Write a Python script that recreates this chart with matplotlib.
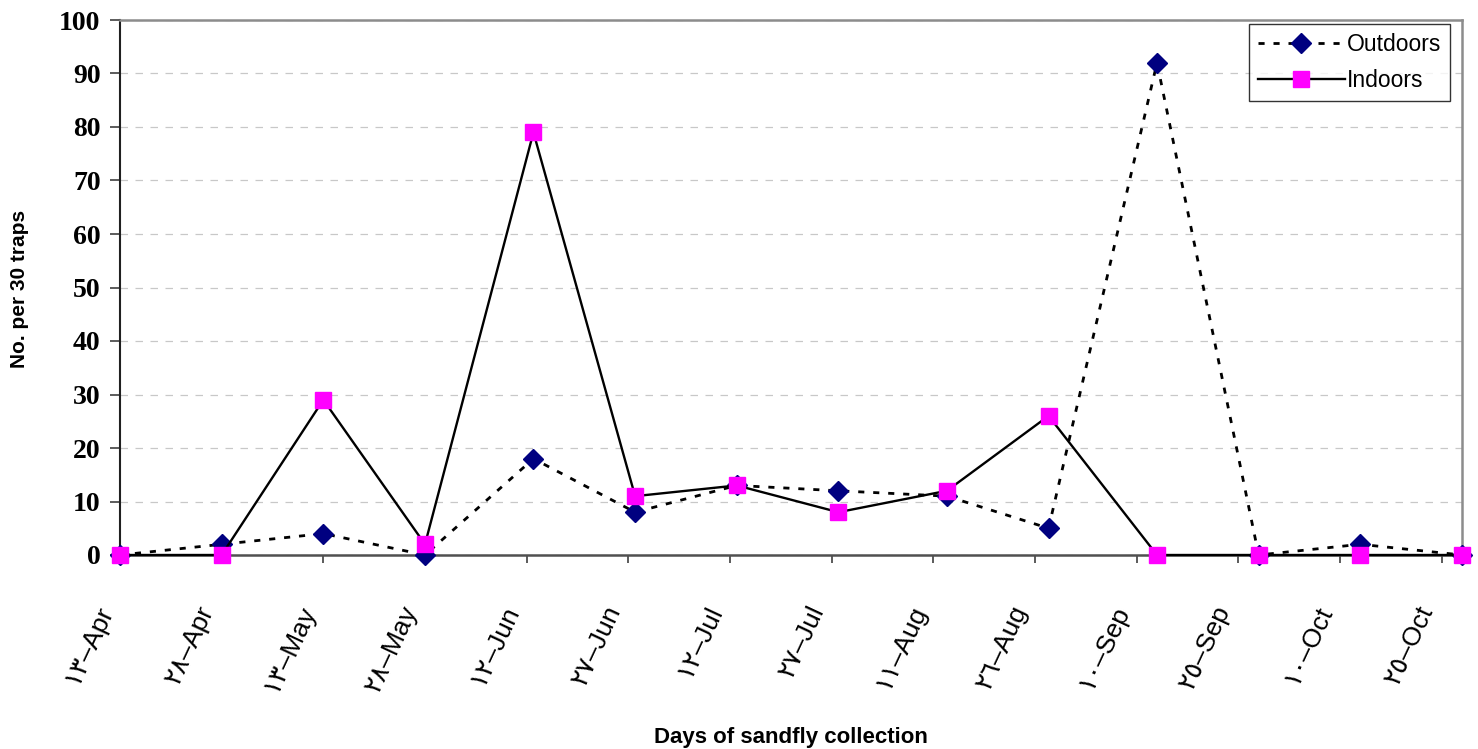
import datetime as dt
import matplotlib
matplotlib.use("Agg")
import matplotlib.pyplot as plt
import matplotlib.transforms as mtransforms

# ---- data ----
collection_dates = ["2007-04-13", "2007-04-28", "2007-05-13", "2007-05-28",
                    "2007-06-13", "2007-06-28", "2007-07-13", "2007-07-28",
                    "2007-08-13", "2007-08-28", "2007-09-13", "2007-09-28",
                    "2007-10-13", "2007-10-28"]
outdoors = [0, 2, 4, 0, 18, 8, 13, 12, 11, 5, 92, 0, 2, 0]
indoors = [0, 0, 29, 2, 79, 11, 13, 8, 12, 26, 0, 0, 0, 0]

tick_dates = ["2007-04-13", "2007-04-28", "2007-05-13", "2007-05-28",
              "2007-06-12", "2007-06-27", "2007-07-12", "2007-07-27",
              "2007-08-11", "2007-08-26", "2007-09-10", "2007-09-25",
              "2007-10-10", "2007-10-25"]
tick_labels = ["١٣–Apr", "٢٨–Apr", "١٣–May", "٢٨–May", "١٢–Jun", "٢٧–Jun",
               "١٢–Jul", "٢٧–Jul", "١١–Aug", "٢٦–Aug", "١٠–Sep", "٢٥–Sep",
               "١٠–Oct", "٢٥–Oct"]
y_ticks = [0, 10, 20, 30, 40, 50, 60, 70, 80, 90, 100]

def to_date(s):
    return dt.datetime.strptime(s, "%Y-%m-%d")

xd = [to_date(s) for s in collection_dates]
xt = [to_date(s) for s in tick_dates]

W, H = 1478, 749
fig = plt.figure(figsize=(W / 100, H / 100), dpi=100)
ax = fig.add_axes([120 / W, (H - 555) / H, (1462 - 120) / W, (555 - 20) / H])

sans = ["Liberation Sans", "DejaVu Sans"]

# gridlines
ax.set_axisbelow(True)
ax.yaxis.grid(True, color="#c8c8c8", linestyle=(0, (6, 6)), linewidth=0.9)

ax.plot(xd, outdoors, color="black", linestyle=(0, (2.2, 3.2)), linewidth=2.0,
        marker="D", markersize=10.5, markerfacecolor="#000080",
        markeredgecolor="#000080", label="Outdoors", clip_on=False, zorder=3)
ax.plot(xd, indoors, color="black", linestyle="-", linewidth=1.7,
        marker="s", markersize=11, markerfacecolor="#ff00ff",
        markeredgecolor="#ff00ff", label="Indoors", clip_on=False, zorder=4)

ax.set_xlim(xd[0], xd[-1])
ax.set_ylim(0, 100)

ax.set_yticks(y_ticks)
ax.set_yticklabels([str(v) for v in y_ticks], fontfamily="Liberation Serif",
                   fontweight="bold", fontsize=20)
ax.tick_params(axis="y", direction="out", length=7, width=1.2,
               color="#404040", pad=7)

ax.set_xticks(xt)
ax.set_xticklabels(tick_labels, family=sans, fontsize=19, rotation=65,
                   ha="right", va="center", rotation_mode="anchor")
ax.tick_params(axis="x", direction="out", length=6, width=1.2,
               color="#404040", pad=31)
offset = mtransforms.ScaledTranslation(-14 / 100, 0, fig.dpi_scale_trans)
for lab in ax.get_xticklabels():
    lab.set_transform(lab.get_transform() + offset)

ax.spines["left"].set_color("#202020")
ax.spines["left"].set_linewidth(1.5)
ax.spines["bottom"].set_color("#505050")
ax.spines["bottom"].set_linewidth(1.8)
for side in ["top", "right"]:
    ax.spines[side].set_color("#8c8c8c")
    ax.spines[side].set_linewidth(1.8)

ax.set_xlabel("Days of sandfly collection", family=sans, fontweight="bold",
              fontsize=16)
ax.xaxis.set_label_coords(791 / W, (H - 737) / H, transform=fig.transFigure)
ax.xaxis.label.set_va("center")
ax.set_ylabel("No. per 30 traps", family=sans, fontweight="bold", fontsize=15)
ax.yaxis.set_label_coords(20 / W, (H - 289) / H, transform=fig.transFigure)
ax.yaxis.label.set_va("center")

leg = ax.legend(loc="upper right", bbox_to_anchor=(1450 / W, (H - 24) / H),
                bbox_transform=fig.transFigure, frameon=True, fancybox=False,
                prop={"family": sans, "size": 16.5}, handlelength=3.8,
                borderpad=0.38, labelspacing=0.6, handletextpad=0.1,
                borderaxespad=0)
leg.get_frame().set_edgecolor("black")
leg.get_frame().set_linewidth(1.0)

fig.savefig("out.png", dpi=100)
